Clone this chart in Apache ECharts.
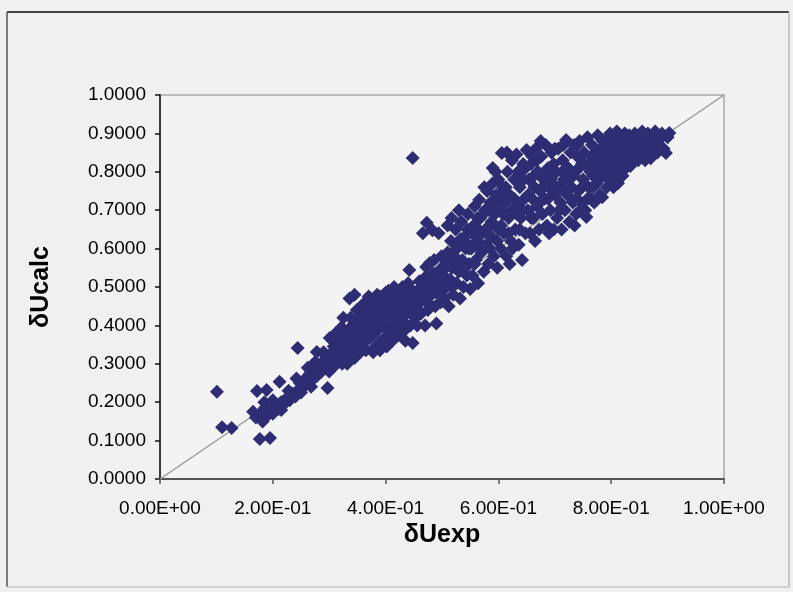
<!DOCTYPE html>
<html>
<head>
<meta charset="utf-8">
<script src="https://cdn.jsdelivr.net/npm/echarts@6/dist/echarts.min.js"></script>
<style>
html,body{margin:0;padding:0;background:#f0f0f0;}
#chart{width:793px;height:592px;}
</style>
</head>
<body>
<div id="chart"></div>
<script>
const xTickLabels = ['0.00E+00','2.00E-01','4.00E-01','6.00E-01','8.00E-01','1.00E+00'];
const yTickLabels = ['0.0000','0.1000','0.2000','0.3000','0.4000','0.5000','0.6000','0.7000','0.8000','0.9000','1.0000'];
const diagonal = [[0,0],[1,1]];

const outliers = [[0.101,0.227],[0.110,0.135],[0.127,0.133],[0.177,0.104],[0.195,0.107],[0.172,0.229],[0.189,0.232],[0.212,0.253],[0.244,0.341],[0.278,0.331],[0.301,0.367],[0.297,0.237],[0.448,0.836]];
const band1 = [[0.165,0.175],[0.170,0.160],[0.178,0.172],[0.182,0.150],[0.186,0.185],[0.190,0.165],[0.195,0.178],[0.200,0.170],[0.205,0.190],[0.210,0.182],[0.215,0.200],[0.220,0.195],[0.225,0.210],[0.230,0.205],[0.235,0.222],[0.240,0.215],[0.245,0.232],[0.248,0.250],[0.185,0.200],[0.200,0.205],[0.215,0.180],[0.228,0.230],[0.242,0.262],[0.250,0.225]];
const band2 = [[0.255,0.240],[0.258,0.262],[0.262,0.250],[0.266,0.275],[0.270,0.258],[0.274,0.285],[0.278,0.268],[0.282,0.295],[0.285,0.278],[0.288,0.305],[0.292,0.288],[0.295,0.318],[0.298,0.300],[0.262,0.290],[0.275,0.305],[0.290,0.330],[0.300,0.280],[0.268,0.240]];
const band3 = [[0.302,0.325],[0.305,0.310],[0.308,0.345],[0.310,0.295],[0.313,0.330],[0.316,0.360],[0.318,0.315],[0.320,0.345],[0.323,0.300],[0.325,0.375],[0.328,0.335],[0.330,0.355],[0.333,0.320],[0.335,0.390],[0.337,0.345],[0.340,0.370],[0.342,0.330],[0.344,0.405],[0.346,0.355],[0.348,0.385],[0.350,0.340],[0.312,0.380],[0.322,0.395],[0.338,0.420],[0.349,0.440],[0.332,0.300],[0.345,0.315],[0.336,0.470],[0.345,0.480],[0.325,0.420]];
const band4 = [[0.352,0.365],[0.354,0.395],[0.356,0.420],[0.358,0.350],[0.360,0.380],[0.362,0.410],[0.364,0.440],[0.366,0.360],[0.368,0.395],[0.370,0.425],[0.372,0.455],[0.374,0.370],[0.376,0.405],[0.378,0.435],[0.380,0.465],[0.382,0.345],[0.384,0.385],[0.386,0.415],[0.388,0.450],[0.390,0.475],[0.392,0.360],[0.394,0.400],[0.396,0.430],[0.398,0.460],[0.400,0.485],[0.355,0.330],[0.365,0.335],[0.378,0.330],[0.390,0.335],[0.400,0.370],[0.360,0.455],[0.370,0.475],[0.385,0.480],[0.375,0.385],[0.395,0.445]];
const band5 = [[0.402,0.345],[0.404,0.395],[0.406,0.420],[0.408,0.450],[0.410,0.470],[0.412,0.360],[0.414,0.405],[0.416,0.435],[0.418,0.460],[0.420,0.490],[0.422,0.375],[0.424,0.415],[0.426,0.445],[0.428,0.470],[0.430,0.500],[0.432,0.385],[0.434,0.425],[0.436,0.455],[0.438,0.480],[0.440,0.510],[0.442,0.544],[0.444,0.400],[0.446,0.440],[0.448,0.354],[0.449,0.470],[0.405,0.490],[0.415,0.500],[0.425,0.395],[0.435,0.360],[0.445,0.495]];
const band6 = [[0.452,0.420],[0.455,0.455],[0.458,0.485],[0.460,0.515],[0.462,0.430],[0.465,0.465],[0.468,0.495],[0.470,0.525],[0.473,0.667],[0.475,0.440],[0.478,0.475],[0.480,0.505],[0.483,0.648],[0.485,0.535],[0.488,0.450],[0.490,0.485],[0.492,0.515],[0.494,0.640],[0.496,0.545],[0.498,0.460],[0.500,0.495],[0.466,0.640],[0.456,0.400],[0.486,0.570],[0.499,0.580],[0.470,0.400],[0.490,0.405],[0.472,0.552],[0.478,0.562]];
const band7 = [[0.502,0.530],[0.504,0.470],[0.506,0.560],[0.508,0.500],[0.510,0.590],[0.512,0.450],[0.514,0.520],[0.516,0.620],[0.517,0.680],[0.518,0.550],[0.520,0.480],[0.522,0.580],[0.524,0.650],[0.526,0.510],[0.528,0.610],[0.530,0.540],[0.532,0.470],[0.534,0.670],[0.536,0.570],[0.538,0.500],[0.540,0.630],[0.542,0.600],[0.544,0.530],[0.546,0.690],[0.548,0.560],[0.550,0.495],[0.530,0.700],[0.510,0.660],[0.545,0.650]];
const band8 = [[0.552,0.600],[0.554,0.530],[0.556,0.660],[0.558,0.710],[0.560,0.570],[0.562,0.620],[0.564,0.510],[0.566,0.727],[0.568,0.680],[0.570,0.590],[0.572,0.640],[0.574,0.540],[0.576,0.700],[0.578,0.610],[0.580,0.750],[0.582,0.560],[0.584,0.660],[0.586,0.720],[0.588,0.630],[0.590,0.770],[0.592,0.580],[0.594,0.690],[0.596,0.740],[0.598,0.550],[0.600,0.650],[0.565,0.650],[0.585,0.600],[0.595,0.800],[0.575,0.760]];
const band9 = [[0.602,0.700],[0.604,0.600],[0.606,0.849],[0.608,0.760],[0.610,0.640],[0.612,0.720],[0.614,0.580],[0.616,0.800],[0.618,0.680],[0.620,0.740],[0.622,0.620],[0.624,0.830],[0.626,0.700],[0.628,0.780],[0.630,0.650],[0.632,0.845],[0.634,0.720],[0.636,0.610],[0.638,0.760],[0.640,0.680],[0.642,0.570],[0.644,0.820],[0.646,0.730],[0.648,0.640],[0.650,0.857],[0.615,0.850],[0.625,0.600],[0.635,0.800],[0.645,0.780],[0.605,0.660],[0.620,0.560]];
const band10 = [[0.652,0.700],[0.654,0.780],[0.656,0.640],[0.658,0.820],[0.660,0.730],[0.662,0.680],[0.664,0.760],[0.666,0.860],[0.668,0.710],[0.670,0.800],[0.672,0.650],[0.674,0.750],[0.676,0.840],[0.678,0.690],[0.680,0.780],[0.682,0.730],[0.684,0.870],[0.686,0.660],[0.688,0.810],[0.690,0.760],[0.692,0.700],[0.694,0.850],[0.696,0.790],[0.698,0.650],[0.700,0.740],[0.665,0.620],[0.690,0.640],[0.675,0.880]];
const band11 = [[0.702,0.800],[0.704,0.680],[0.706,0.860],[0.708,0.760],[0.710,0.720],[0.712,0.650],[0.714,0.830],[0.716,0.780],[0.718,0.700],[0.720,0.883],[0.722,0.740],[0.724,0.810],[0.726,0.670],[0.728,0.850],[0.730,0.760],[0.732,0.720],[0.734,0.870],[0.736,0.800],[0.738,0.690],[0.740,0.840],[0.742,0.750],[0.744,0.880],[0.746,0.720],[0.748,0.820],[0.750,0.780],[0.715,0.870],[0.735,0.660],[0.745,0.700]];
const band12 = [[0.752,0.850],[0.754,0.700],[0.756,0.682],[0.758,0.890],[0.760,0.760],[0.762,0.820],[0.764,0.730],[0.766,0.870],[0.768,0.790],[0.770,0.720],[0.772,0.850],[0.774,0.770],[0.776,0.895],[0.778,0.810],[0.780,0.740],[0.782,0.860],[0.784,0.734],[0.786,0.830],[0.788,0.790],[0.790,0.880],[0.792,0.760],[0.794,0.850],[0.796,0.810],[0.798,0.900],[0.800,0.780],[0.765,0.840],[0.785,0.880]];
const band13 = [[0.802,0.840],[0.804,0.760],[0.806,0.880],[0.808,0.800],[0.810,0.905],[0.812,0.770],[0.814,0.860],[0.816,0.820],[0.818,0.890],[0.820,0.790],[0.822,0.850],[0.824,0.900],[0.826,0.810],[0.828,0.870],[0.830,0.840],[0.832,0.895],[0.834,0.815],[0.836,0.860],[0.838,0.880],[0.840,0.830],[0.842,0.900],[0.844,0.850],[0.846,0.870],[0.848,0.830],[0.850,0.890]];
const band14 = [[0.852,0.860],[0.855,0.905],[0.858,0.840],[0.862,0.880],[0.865,0.900],[0.868,0.855],[0.872,0.890],[0.875,0.870],[0.878,0.905],[0.882,0.850],[0.886,0.885],[0.890,0.900],[0.893,0.860],[0.897,0.849],[0.900,0.890],[0.903,0.901],[0.860,0.830],[0.870,0.835]];
const fillMid = [[0.362,0.390],[0.372,0.415],[0.383,0.400],[0.393,0.420],[0.403,0.440],[0.413,0.420],[0.423,0.455],[0.433,0.440],[0.443,0.470],[0.453,0.475],[0.463,0.500],[0.473,0.510],[0.483,0.520],[0.493,0.530],[0.503,0.545],[0.513,0.565],[0.523,0.595],[0.533,0.625],[0.543,0.615],[0.553,0.640],[0.563,0.680],[0.573,0.690],[0.583,0.700],[0.593,0.720],[0.603,0.740],[0.613,0.760],[0.623,0.700],[0.633,0.690],[0.643,0.700],[0.653,0.740],[0.663,0.790],[0.673,0.720],[0.683,0.800],[0.693,0.780],[0.703,0.760],[0.713,0.800],[0.723,0.780],[0.733,0.790],[0.743,0.810],[0.753,0.820],[0.763,0.800],[0.773,0.830],[0.783,0.840],[0.793,0.830],[0.803,0.870],[0.813,0.840],[0.823,0.870],[0.833,0.870],[0.843,0.880],[0.853,0.885],[0.863,0.860]];
const fillMid2 = [[0.318,0.350],[0.328,0.370],[0.338,0.385],[0.348,0.410],[0.358,0.430],[0.368,0.445],[0.378,0.450],[0.388,0.430],[0.398,0.395],[0.408,0.380],[0.418,0.390],[0.428,0.410],[0.438,0.400],[0.458,0.440],[0.478,0.455],[0.498,0.510],[0.518,0.500],[0.528,0.560],[0.538,0.540],[0.548,0.600],[0.558,0.560],[0.568,0.600],[0.578,0.650],[0.588,0.670],[0.598,0.620],[0.608,0.690],[0.618,0.640],[0.628,0.730],[0.638,0.650],[0.648,0.810],[0.658,0.680],[0.668,0.830],[0.678,0.760],[0.688,0.730],[0.698,0.820],[0.708,0.700],[0.718,0.750],[0.728,0.800],[0.738,0.730],[0.748,0.760],[0.758,0.730],[0.768,0.760],[0.778,0.780],[0.788,0.860],[0.798,0.850],[0.808,0.820],[0.818,0.860],[0.828,0.830],[0.838,0.850],[0.590,0.810],[0.600,0.780],[0.660,0.840],[0.700,0.860],[0.740,0.870]];

const points = [].concat(outliers, band1, band2, band3, band4, band5, band6, band7, band8, band9, band10, band11, band12, band13, band14, fillMid, fillMid2);

const chart = echarts.init(document.getElementById('chart'));
const font = 'Liberation Sans, Arial, sans-serif';
chart.setOption({
  animation: false,
  backgroundColor: '#f0f0f0',
  graphic: [
    {type: 'line', shape: {x1: 7, y1: 12, x2: 789, y2: 12}, style: {stroke: '#444', lineWidth: 2}},
    {type: 'line', shape: {x1: 7, y1: 12, x2: 7, y2: 587}, style: {stroke: '#555', lineWidth: 1.5}},
    {type: 'line', shape: {x1: 7, y1: 587, x2: 789, y2: 587}, style: {stroke: '#c8c8c8', lineWidth: 1.5}},
    {type: 'line', shape: {x1: 789, y1: 12, x2: 789, y2: 587}, style: {stroke: '#bbb', lineWidth: 1.5}}
  ],
  grid: {left: 160, right: 69, top: 95, bottom: 113, show: true, borderColor: '#a8a8a8', borderWidth: 1.5, backgroundColor: '#f3f3f3'},
  xAxis: {
    type: 'value', min: 0, max: 1, interval: 0.2,
    name: 'δUexp', nameLocation: 'middle', nameGap: 44,
    nameTextStyle: {fontFamily: font, fontSize: 25, fontWeight: 'bold', color: '#000'},
    axisLine: {show: true, onZero: false, lineStyle: {color: '#555', width: 2}},
    axisTick: {show: true, inside: false, length: 5, lineStyle: {color: '#555', width: 1.5}},
    splitLine: {show: false},
    axisLabel: {margin: 20, fontFamily: font, fontSize: 19, color: '#000',
      formatter: v => xTickLabels[Math.round(v / 0.2)]}
  },
  yAxis: {
    type: 'value', min: 0, max: 1, interval: 0.1,
    name: 'δUcalc', nameLocation: 'middle', nameGap: 106,
    nameTextStyle: {fontFamily: font, fontSize: 25, fontWeight: 'bold', color: '#000'},
    axisLine: {show: true, onZero: false, lineStyle: {color: '#111', width: 1.5}},
    axisTick: {show: true, inside: false, length: 5, lineStyle: {color: '#111', width: 1.5}},
    splitLine: {show: false},
    axisLabel: {margin: 14, fontFamily: font, fontSize: 19, color: '#000',
      formatter: v => yTickLabels[Math.round(v / 0.1)]}
  },
  series: [
    {type: 'line', data: diagonal, symbol: 'none', lineStyle: {color: '#9a9a9a', width: 1.5}, z: 1, silent: true},
    {type: 'scatter', data: points, symbol: 'diamond', symbolSize: 14,
      itemStyle: {color: '#2e2d74', opacity: 1}, z: 2}
  ]
});
</script>
</body>
</html>
